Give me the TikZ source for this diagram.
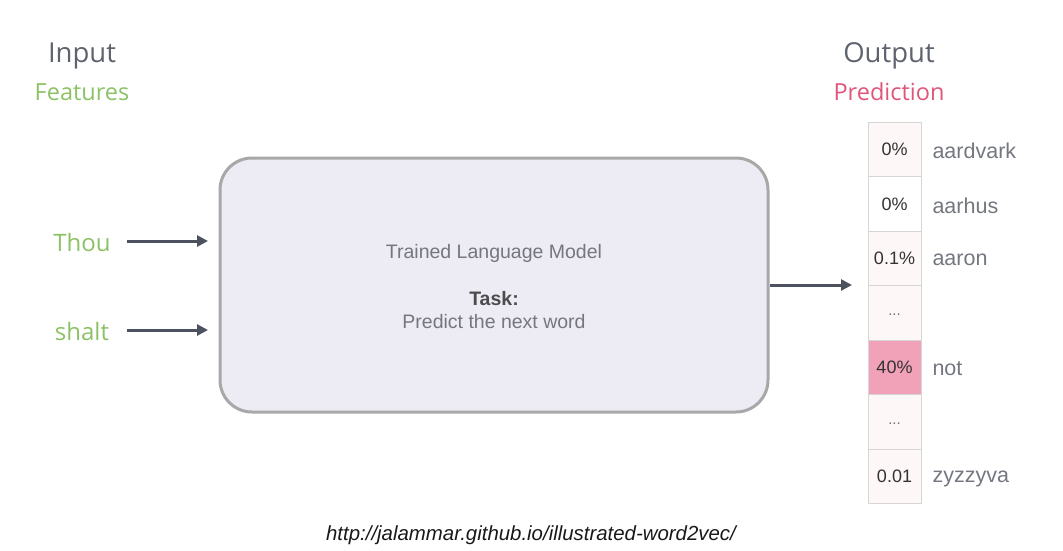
\documentclass[tikz,border=0pt]{standalone}
\usepackage{fontspec}
\setmainfont{Liberation Sans}
\newfontfamily\osans{Open Sans}
\usetikzlibrary{arrows.meta}
\definecolor{titlegray}{HTML}{5E636E}
\definecolor{txtgray}{HTML}{74777F}
\definecolor{featgreen}{HTML}{8CC265}
\definecolor{predpink}{HTML}{E0557A}
\definecolor{arrowgray}{HTML}{4C525E}
\definecolor{boxfill}{HTML}{EDEBF4}
\definecolor{boxline}{HTML}{A8A8A8}
\definecolor{cellfill}{HTML}{FDF8F7}
\definecolor{cellline}{HTML}{D6D6D6}
\definecolor{hotcell}{HTML}{F1A2B9}
\begin{document}
\begin{tikzpicture}[x=1pt,y=-1pt,
  title/.style={font=\osans\fontsize{27.5}{32}\selectfont, text=titlegray},
  subtitle/.style={font=\osans\fontsize{23.5}{26}\selectfont},
  inword/.style={font=\osans\fontsize{24}{28}\selectfont, text=featgreen},
  feed/.style={draw=arrowgray, line width=3pt, -{Triangle[length=11pt,width=11pt]}},
  cell/.style={draw=cellline, line width=1pt, fill=cellfill, minimum width=53pt, minimum height=54.5pt, inner sep=0pt, font=\fontsize{18}{20}\selectfont, text=black!80},
  dots/.style={text=black!55, font=\fontsize{15}{18}\selectfont},
  word/.style={anchor=west, font=\fontsize{21.5}{24}\selectfont, text=txtgray},
  inner/.style={font=\fontsize{19.5}{22}\selectfont, text=txtgray}]
\useasboundingbox (0,0) rectangle (1063,550);
\node[title] (inp) at (82,56) {Input};
\node[subtitle, text=featgreen] (feat) at (82,92) {Features};
\node[title] (outp) at (889,56) {Output};
\node[subtitle, text=predpink] (pred) at (889,92) {Prediction};
% model box
\node[draw=boxline, fill=boxfill, line width=3pt, rounded corners=32pt,
  minimum width=548pt, minimum height=254pt, inner sep=0pt] (model) at (494,285) {};
\node[inner] (tlm) at (494,253) {Trained Language Model};
\node[inner, font=\bfseries\fontsize{19.5}{22}\selectfont, text=black!70] (task) at (494,299) {Task:};
\node[inner] (pnw) at (494,322) {Predict the next word};
% inputs
\node[inword] (thou) at (82,242) {Thou};
\node[inword] (shalt) at (82,331) {shalt};
\coordinate (thouA) at (127,241);
\coordinate (thouB) at (208,241);
\coordinate (shaltA) at (127,330);
\coordinate (shaltB) at (208,330);
\draw[feed] (thouA) -- (thouB);
\draw[feed] (shaltA) -- (shaltB);
% output column
\node[cell] (c1) at (894.5,149.5) {0\%};
\node[cell, fill=white] (c2) at (894.5,204) {0\%};
\node[cell] (c3) at (894.5,258.5) {0.1\%};
\node[cell] (c4) at (894.5,313) {};
\node[cell, fill=hotcell] (c5) at (894.5,367.5) {40\%};
\node[cell] (c6) at (894.5,422) {};
\node[cell] (c7) at (894.5,476.5) {0.01};
\node[dots] (d4) at (894.5,315) {...};
\node[dots] (d6) at (894.5,424) {...};
\coordinate (outA) at (770,285);
\coordinate (outB) at (852,285);
\draw[feed] (outA) -- (outB);
\node[word] (w1) at (929,151) {aardvark};
\node[word] (w2) at (929,205.5) {aarhus};
\node[word] (w3) at (929,260) {aaron};
\node[word] (w5) at (929,369) {not};
\node[word] (w7) at (929,479) {zyzzyva};
% url
\node[font=\itshape\fontsize{20.4}{24}\selectfont, text=black!90] (url) at (531,535) {http://jalammar.github.io/illustrated-word2vec/};
\end{tikzpicture}
\end{document}
